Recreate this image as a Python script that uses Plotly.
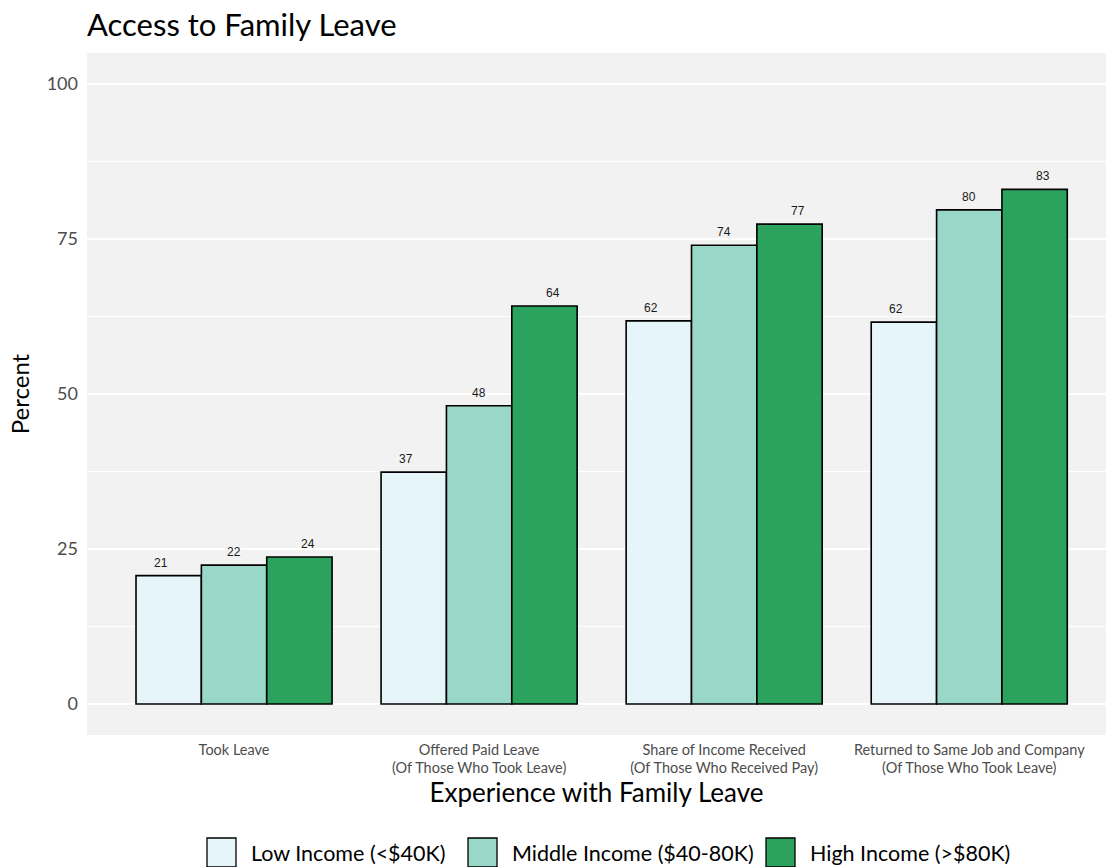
import plotly.graph_objects as go

# Survey results: share of respondents (percent) by income bracket
categories = [
    "Took Leave",
    "Offered Paid Leave<br>(Of Those Who Took Leave)",
    "Share of Income Received<br>(Of Those Who Received Pay)",
    "Returned to Same Job and Company<br>(Of Those Who Took Leave)",
]
series_names = ["Low Income (<$40K)", "Middle Income ($40-80K)", "High Income (>$80K)"]
low_income = [20.7, 37.4, 61.8, 61.6]
middle_income = [22.4, 48.1, 74.0, 79.7]
high_income = [23.7, 64.2, 77.4, 83.0]
y_ticks = [0, 25, 50, 75, 100]

series_values = [low_income, middle_income, high_income]
fills = ["#E5F5F9", "#99D8C9", "#2CA25F"]
base_font = "Lato, 'Open Sans', sans-serif"
positions = list(range(len(categories)))

fig = go.Figure()

for name, vals, color in zip(series_names, series_values, fills):
    fig.add_trace(go.Bar(
        x=positions, y=vals, name=name,
        marker=dict(color=color, line=dict(color="black", width=1.6)),
        showlegend=False,
    ))

# value labels, dodged slightly wider than the bars
label_dodge = 0.3
for k, vals in enumerate(series_values):
    for p, v in zip(positions, vals):
        fig.add_annotation(
            x=p + (k - 1) * label_dodge, y=v,
            text=f"{v:.0f}", showarrow=False,
            xanchor="center", yanchor="bottom", yshift=4,
            font=dict(family="'Liberation Sans', Arial, sans-serif", size=12, color="#1a1a1a"),
        )

fig.update_layout(
    width=1106, height=867,
    margin=dict(l=87, r=0, t=53, b=132),
    paper_bgcolor="white",
    plot_bgcolor="#F2F2F2",
    barmode="group",
    bargap=0.2,
    bargroupgap=0,
    font=dict(family=base_font, color="#4D4D4D"),
    title=dict(
        text="Access to Family Leave",
        x=87 / 1106, xanchor="left",
        y=1 - 25 / 867, yanchor="middle",
        font=dict(family=base_font, size=31, color="black"),
    ),
    xaxis=dict(
        range=[-0.6, 3.558],
        tickmode="array",
        tickvals=positions,
        ticktext=categories,
        tickfont=dict(size=14.5, color="#4D4D4D"),
        showgrid=False,
        zeroline=False,
        ticks="",
        ticklabelstandoff=4,
        title=dict(text="Experience with Family Leave",
                   font=dict(size=26, color="black"), standoff=4),
    ),
    yaxis=dict(
        range=[-5, 105],
        tickmode="array",
        tickvals=y_ticks,
        tickfont=dict(size=18, color="#4D4D4D"),
        showgrid=True, gridcolor="white", gridwidth=1.6,
        minor=dict(dtick=12.5, tick0=0, showgrid=True, gridcolor="white", gridwidth=0.8),
        zeroline=False,
        ticks="",
        ticklabelstandoff=8,
        title=dict(text="Percent", font=dict(size=24, color="black"), standoff=10),
    ),
)

# legend row along the bottom edge
legend_x = [207, 468, 766]
sw = 29
legend_y_top = 838
for name, color, x0 in zip(series_names, fills, legend_x):
    fig.add_shape(
        type="rect", xref="paper", yref="paper",
        x0=(x0 - 87) / 1019, x1=(x0 + sw - 87) / 1019,
        y0=(735 - legend_y_top) / 682, y1=(735 - legend_y_top - sw) / 682,
        fillcolor=color, line=dict(color="black", width=1.3),
    )
    fig.add_annotation(
        xref="paper", yref="paper",
        x=(x0 + sw + 13 - 87) / 1019, y=(735 - legend_y_top - sw / 2) / 682,
        xanchor="left", yanchor="middle",
        text=name, showarrow=False,
        font=dict(family=base_font, size=21.5, color="black"),
    )

fig.write_html("out.html")
